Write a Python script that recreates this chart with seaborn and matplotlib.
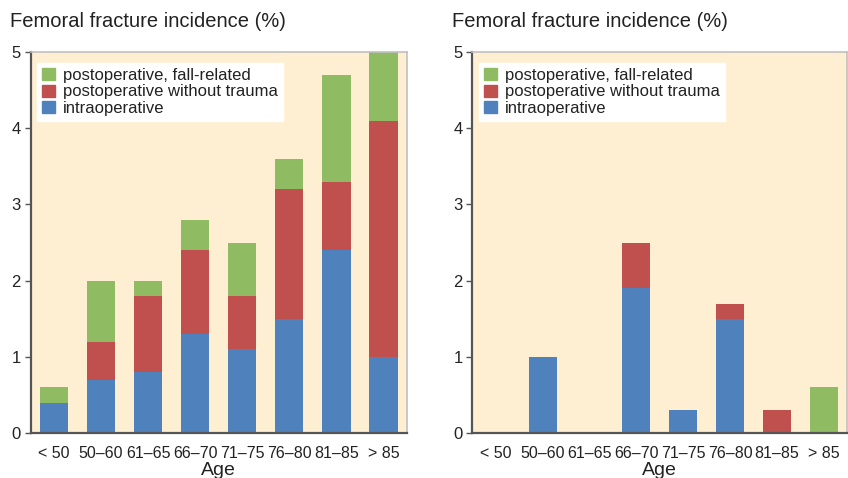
import numpy as np
import pandas as pd
import seaborn as sns
import matplotlib.pyplot as plt
from matplotlib.patches import Patch

# ─── Data ────────────────────────────────────────────────────────────
age_groups = ["< 50", "50–60", "61–65", "66–70", "71–75", "76–80", "81–85", "> 85"]

left_intra = [0.4, 0.7, 0.8, 1.3, 1.1, 1.5, 2.4, 1.0]
left_post  = [0.0, 0.5, 1.0, 1.1, 0.7, 1.7, 0.9, 3.1]
left_fall  = [0.2, 0.8, 0.2, 0.4, 0.7, 0.4, 1.4, 0.9]

right_intra = [0.0, 1.0, 0.0, 1.9, 0.3, 1.5, 0.0, 0.0]
right_post  = [0.0, 0.0, 0.0, 0.6, 0.0, 0.2, 0.3, 0.0]
right_fall  = [0.0, 0.0, 0.0, 0.0, 0.0, 0.0, 0.0, 0.6]

series_labels = ["postoperative, fall-related", "postoperative without trauma", "intraoperative"]
y_ticks = [0, 1, 2, 3, 4, 5]

# ─── Style ───────────────────────────────────────────────────────────
sns.set_theme(style="white")
plt.rcParams["font.family"] = ["Liberation Sans", "DejaVu Sans"]

GREEN = "#8fbc62"
RED = "#c0504d"
BLUE = "#4f81bd"
BG = "#feefd3"
INK = "#222222"


def stacked(ax, intra, post, fall):
    df = pd.DataFrame({"age": age_groups, "intra": intra, "post": post, "fall": fall})
    df["top"] = df["intra"] + df["post"] + df["fall"]
    df["mid"] = df["intra"] + df["post"]
    # draw cumulative layers back to front
    for col, c in [("top", GREEN), ("mid", RED), ("intra", BLUE)]:
        sns.barplot(data=df, x="age", y=col, order=age_groups, color=c,
                    width=0.6, linewidth=0, saturation=1, ax=ax, errorbar=None)

    ax.set_facecolor(BG)
    ax.set_ylim(0, 5)
    ax.set_xlim(-0.5, len(age_groups) - 0.5)
    ax.set_yticks(y_ticks)
    ax.set_ylabel("")
    ax.set_xlabel("Age", fontsize=14, color=INK, labelpad=1)
    ax.tick_params(axis="y", left=True, length=4, width=1, color="#555555",
                   labelsize=12, labelcolor=INK, pad=3)
    ax.tick_params(axis="x", bottom=False, labelsize=11.5, labelcolor=INK, pad=3)
    for s in ["left", "bottom"]:
        ax.spines[s].set_color("#555555")
        ax.spines[s].set_linewidth(1.6)
    for s in ["top", "right"]:
        ax.spines[s].set_color("#c0c0c0")
        ax.spines[s].set_linewidth(1.2)

    handles = [Patch(color=GREEN), Patch(color=RED), Patch(color=BLUE)]
    leg = ax.legend(handles, series_labels, loc="upper left", bbox_to_anchor=(0.005, 0.985),
                    fontsize=12, frameon=True, fancybox=False, framealpha=1,
                    handlelength=0.75, handleheight=0.75, handletextpad=0.5,
                    labelspacing=0.1, borderpad=0.3, borderaxespad=0.3)
    leg.get_frame().set_facecolor("white")
    leg.get_frame().set_edgecolor("white")
    for t in leg.get_texts():
        t.set_color(INK)


fig = plt.figure(figsize=(8.48, 4.78), dpi=100)
ax1 = fig.add_axes([0.036, 0.094, 0.444, 0.797])
ax2 = fig.add_axes([0.557, 0.094, 0.442, 0.797])

stacked(ax1, left_intra, left_post, left_fall)
stacked(ax2, right_intra, right_post, right_fall)

fig.text(0.012, 0.975, "Femoral fracture incidence (%)", fontsize=14.5, color=INK,
         ha="left", va="top")
fig.text(0.533, 0.975, "Femoral fracture incidence (%)", fontsize=14.5, color=INK,
         ha="left", va="top")

fig.savefig("out.png", dpi=100)
